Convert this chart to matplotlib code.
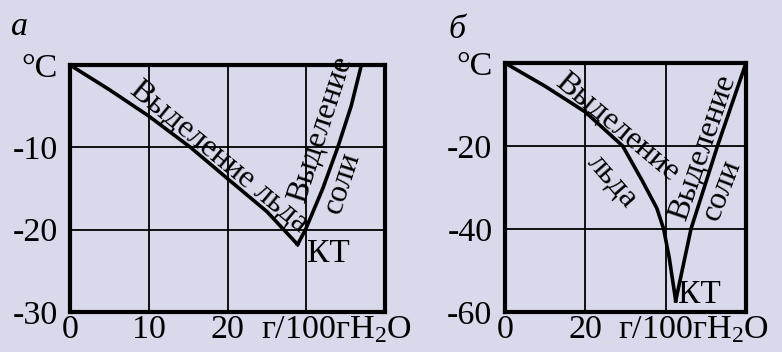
import matplotlib
matplotlib.use("Agg")
import matplotlib.pyplot as plt

# panel а: temperature (°C) vs concentration (g per 100 g H2O)
ice_a_x = [0, 5, 10, 15.3, 20, 25, 28.9]
ice_a_y = [0, -3.0, -6.2, -10, -13.8, -17.8, -21.8]
salt_a_x = [28.9, 29.9, 32.1, 34.0, 35.7, 37.0]
salt_a_y = [-21.8, -20, -15, -10, -5, 0]

# panel б
ice_b_x = [0, 10, 20, 29.3, 34.3, 37.8, 39.5, 40.9, 42.5]
ice_b_y = [0, -5.6, -11.8, -20, -28.6, -35, -40, -47, -57.3]
salt_b_x = [42.5, 46.3, 52.9, 60.0]
salt_b_y = [-57.3, -40, -20, 0]

xticks_a = [0, 10, 20]
yticks_a = [0, -10, -20, -30]
ylabels_a = ['°C', '-10', '-20', '-30']
xticks_b = [0, 20]
yticks_b = [0, -20, -40, -60]
ylabels_b = ['°C', '-20', '-40', '-60']

unit_label = 'г/100гH$_2$O'

bg = '#d8d9eb'
fs = 24.5      # tick labels, units
fs_in = 23     # labels inside the plots

plt.rcParams['font.family'] = ['Liberation Serif', 'DejaVu Serif']
plt.rcParams['mathtext.fontset'] = 'custom'
plt.rcParams['mathtext.rm'] = 'Liberation Serif'
plt.rcParams['mathtext.it'] = 'Liberation Serif:italic'

W, H = 782, 352
fig = plt.figure(figsize=(W / 100, H / 100), dpi=100, facecolor=bg)


def setup_axes(ax, xlim, ylim, grid_x, grid_y, xticks, yticks, ylabels):
    ax.set_facecolor(bg)
    ax.set_xlim(*xlim)
    ax.set_ylim(*ylim)
    for s in ax.spines.values():
        s.set_linewidth(3.0)
    for gx in grid_x:
        ax.axvline(gx, color='black', lw=1.3, zorder=1)
    for gy in grid_y:
        ax.axhline(gy, color='black', lw=1.3, zorder=1)
    ax.set_xticks(xticks)
    ax.set_xticklabels([str(t) for t in xticks], fontsize=fs)
    ax.set_yticks(yticks)
    ax.set_yticklabels(ylabels, fontsize=fs)
    ax.tick_params(length=0)
    ax.tick_params(axis='x', pad=2)
    ax.tick_params(axis='y', pad=9)


def unit_text(ax, x):
    ax.annotate(unit_label, xy=(x, 0), xycoords=('data', 'axes fraction'),
                xytext=(0, -2), textcoords='offset points',
                fontsize=fs, ha='left', va='top', annotation_clip=False)


# --- panel а ---
ax1 = fig.add_axes([70 / W, 1 - 312 / H, (385 - 70) / W, (312 - 65) / H])
setup_axes(ax1, (0, 40), (-30, 0), [10, 20, 30], [-10, -20],
           xticks_a, yticks_a, ylabels_a)
ax1.plot(ice_a_x, ice_a_y, color='black', lw=2.6, zorder=3,
         solid_joinstyle='miter')
ax1.plot(salt_a_x, salt_a_y, color='black', lw=2.6, zorder=3)
ax1.text(18.9, -11.2, 'Выделение льда', fontsize=fs_in, rotation=-39.5,
         ha='center', va='center', rotation_mode='anchor')
ax1.text(31.8, -7.8, 'Выделение', fontsize=fs_in, rotation=72,
         ha='center', va='center', rotation_mode='anchor')
ax1.text(34.6, -14.3, 'соли', fontsize=fs_in, rotation=72,
         ha='center', va='center', rotation_mode='anchor')
ax1.text(32.8, -22.9, 'КТ', fontsize=24, ha='center', va='center')
unit_text(ax1, 24.2)

# --- panel б ---
ax2 = fig.add_axes([505 / W, 1 - 312 / H, (746 - 505) / W, (312 - 63) / H])
setup_axes(ax2, (0, 60), (-60, 0), [20, 40], [-20, -40],
           xticks_b, yticks_b, ylabels_b)
ax2.plot(ice_b_x, ice_b_y, color='black', lw=2.6, zorder=3,
         solid_joinstyle='miter')
ax2.plot(salt_b_x, salt_b_y, color='black', lw=2.6, zorder=3)
ax2.text(27.9, -15.5, 'Выделение', fontsize=fs_in, rotation=-40,
         ha='center', va='center', rotation_mode='anchor')
ax2.text(26.6, -28.4, 'льда', fontsize=fs_in, rotation=-49,
         ha='center', va='center', rotation_mode='anchor')
ax2.text(49.3, -20.5, 'Выделение', fontsize=fs_in, rotation=71,
         ha='center', va='center', rotation_mode='anchor')
ax2.text(54.0, -30.6, 'соли', fontsize=fs_in, rotation=69,
         ha='center', va='center', rotation_mode='anchor')
ax2.text(48.5, -55.9, 'КТ', fontsize=24, ha='center', va='center')
unit_text(ax2, 28.1)

# panel letters
fig.text(19 / W, 1 - 27 / H, 'а', fontsize=fs, style='italic',
         ha='center', va='center')
fig.text(457 / W, 1 - 30 / H, 'б', fontsize=fs, style='italic',
         ha='center', va='center')

fig.savefig('out.png', dpi=100, facecolor=bg)
